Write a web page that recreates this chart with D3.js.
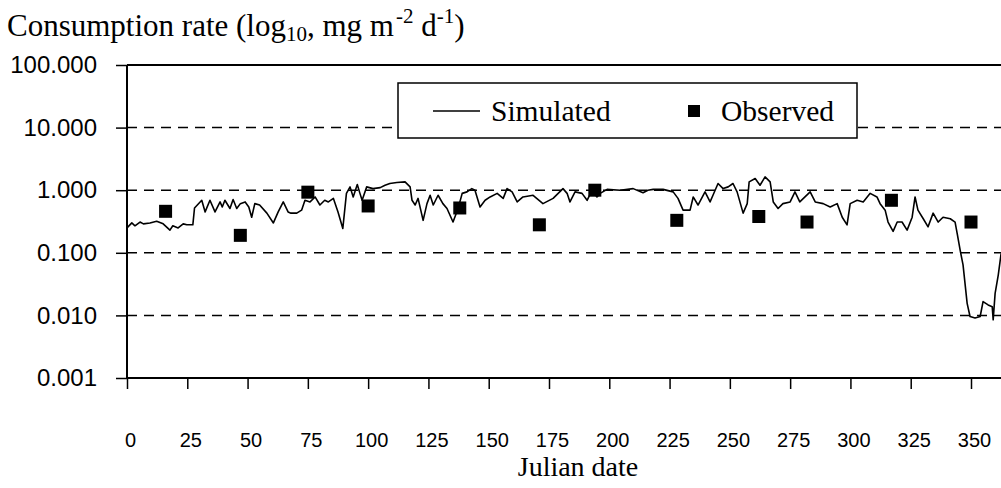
<!DOCTYPE html>
<html><head><meta charset="utf-8">
<script src="https://cdn.jsdelivr.net/npm/d3@7"></script>
<style>body{margin:0;background:#fff;} svg{display:block;}</style>
</head><body>
<svg id="chart" width="1001" height="488"></svg>
<script>
const simDays = [0,2,3.3,5.4,6.8,9.5,12.3,15,17.8,19,21.2,23.3,24.8,27.3,
28,31,32.4,34.4,36.5,38.6,39.5,40.6,42.7,44,45.5,47,49,50.5,51.7,53,55,58,60.7,62.7,64.8,66.8,68,70.4,72.4,73.8,75.9,78,80,82,83.5,85.6,87.5,89.5,91,92.5,93.8,95.5,96.6,97.5,99.4,102,105,107,109,111.9,115.3,117.4,
118.2,119.5,120.7,122.8,124.4,125.7,127,129,131,132.7,135.2,137.3,139,141,143,144.3,146.4,148.5,150.6,153.5,156,157.6,159.7,161.8,164.2,168.4,172.5,176.7,180.8,182.5,183.7,185.8,188.7,190.8,192.9,194.9,196.2,199.1,204.5,209.9,214,216,218.2,222.3,226.5,228.5,230.6,233.5,234.8,236.8,
239.7,241.8,243,245.1,247.2,249.3,251.3,253,255.5,257.2,258,260.5,262.5,264.6,266.7,268,270,272,275,277,279,283.3,285.4,288.7,291.6,294.5,296.6,298.6,299.9,302.8,305.3,308.2,311,312.3,314.4,315.6,317.7,319.4,321.4,323.5,325.6,326.8,328,330.2,332.2,334.3,336.4,338.4,341.4,343.4,344.3,345.5,346.7,348.4,349.6,351.7,353.8,355,357.1,358.8,359.2,360,361.3,362.5];
const simValues = [0.25,0.30,0.27,0.31,0.29,0.30,0.32,0.29,0.23,0.27,0.25,0.29,0.28,0.28,
0.52,0.69,0.45,0.69,0.45,0.65,0.54,0.69,0.51,0.71,0.51,0.61,0.65,0.54,0.37,0.61,0.58,0.43,0.30,0.45,0.65,0.45,0.43,0.43,0.48,0.69,0.65,0.78,0.58,0.69,0.65,0.74,0.45,0.245,0.89,1.13,0.78,1.23,0.89,0.69,1.13,1.06,1.10,1.20,1.28,1.33,1.36,1.13,
0.69,0.58,0.74,0.33,0.61,0.83,0.58,0.83,0.61,0.51,0.31,0.51,0.89,0.94,1.06,1.0,0.54,0.69,0.78,0.89,0.74,1.06,0.94,0.65,0.78,0.83,0.61,0.74,1.06,0.89,0.65,0.94,0.89,0.69,1.0,0.78,0.89,1.03,1.0,1.06,0.91,1.0,1.03,1.03,0.94,0.74,0.48,0.48,0.78,0.58,
0.94,0.65,0.83,1.28,1.06,1.13,1.28,0.94,0.43,0.61,1.36,1.54,1.2,1.63,1.36,0.65,0.51,0.61,0.65,0.94,0.65,0.94,0.65,0.61,0.54,0.61,0.37,0.28,0.61,0.69,0.65,0.89,0.78,0.61,0.48,0.31,0.22,0.31,0.31,0.23,0.37,0.78,0.48,0.35,0.26,0.43,0.31,0.37,0.35,0.31,0.20,0.11,0.064,0.0156,0.0096,0.0091,0.0096,0.0166,0.0147,0.0138,0.0085,0.0225,0.044,0.098];
const obsDays = [16,47,75,100,138,171,194,228,262,282,317,350];
const obsValues = [0.46,0.19,0.93,0.56,0.52,0.28,1.0,0.33,0.38,0.31,0.69,0.31];
const xTicks = [0,25,50,75,100,125,150,175,200,225,250,275,300,325,350];
const yTicks = [100,10,1,0.1,0.01,0.001];
const yTickLabels = ["100.000","10.000","1.000","0.100","0.010","0.001"];
const gridValues = [10,1,0.1,0.01];
const seriesNames = ["Simulated","Observed"];

const svg = d3.select("#chart");
svg.append("rect").attr("width",1001).attr("height",488).attr("fill","#fff");

const serif = "'Liberation Serif','Times New Roman',Times,serif";
const sans = "'Liberation Sans',Arial,Helvetica,sans-serif";

const x = d3.scaleLinear().domain([0,350]).range([127,971]);
const y = d3.scaleLog().domain([0.001,100]).range([378,65]);
const xRight = 1001;

// gridlines
svg.append("g").selectAll("line").data(gridValues).join("line")
  .attr("x1",x(0)).attr("x2",xRight)
  .attr("y1",d=>y(d)).attr("y2",d=>y(d))
  .attr("stroke","#000").attr("stroke-width",1.5).attr("stroke-dasharray","10,7");

// frame lines
svg.append("line").attr("x1",x(0)).attr("x2",xRight).attr("y1",y(100)).attr("y2",y(100)).attr("stroke","#000").attr("stroke-width",2);
svg.append("line").attr("x1",x(0)).attr("x2",xRight).attr("y1",y(0.001)).attr("y2",y(0.001)).attr("stroke","#000").attr("stroke-width",2);
svg.append("line").attr("x1",x(0)).attr("x2",x(0)).attr("y1",y(100)).attr("y2",y(0.001)).attr("stroke","#000").attr("stroke-width",2);

// y axis
const yAxis = d3.axisLeft(y).tickValues(yTicks).tickFormat((d,i)=>yTickLabels[i]).tickSize(11).tickPadding(19);
const gy = svg.append("g").attr("transform",`translate(${x(0)},0)`).call(yAxis);
gy.select(".domain").remove();
gy.selectAll(".tick line").attr("stroke","#000").attr("stroke-width",1.5);
gy.selectAll(".tick text").attr("font-family",sans).attr("font-size",24).attr("fill","#000");

// x axis
const xAxis = d3.axisBottom(x).tickValues(xTicks).tickFormat(d=>String(d)).tickSize(11).tickPadding(44);
const gx = svg.append("g").attr("transform",`translate(0,${y(0.001)})`).call(xAxis);
gx.select(".domain").remove();
gx.selectAll(".tick line").attr("stroke","#000").attr("stroke-width",1.5);
gx.selectAll(".tick text").attr("font-family",sans).attr("font-size",20).attr("fill","#000").attr("dx",3);

// x title
svg.append("text").attr("x",578).attr("y",476).attr("text-anchor","middle")
  .attr("font-family",serif).attr("font-size",28).attr("fill","#000").text("Julian date");

// chart title
const title = svg.append("text").attr("x",7).attr("y",36).attr("font-family",serif).attr("font-size",31).attr("fill","#000");
title.append("tspan").text("Consumption rate (log");
title.append("tspan").attr("font-size",21).attr("dy",5).text("10");
title.append("tspan").attr("dy",-5).text(", mg m");
title.append("tspan").attr("font-size",21).attr("dy",-13).attr("dx",2).text("-2");
title.append("tspan").attr("dy",13).text(" d");
title.append("tspan").attr("font-size",21).attr("dy",-13).text("-1");
title.append("tspan").attr("dy",13).text(")");

// simulated line
const simPts = simDays.map((d,i)=>[d,simValues[i]]);
svg.append("path").datum(simPts)
  .attr("d", d3.line().x(d=>x(d[0])).y(d=>y(d[1])))
  .attr("fill","none").attr("stroke","#000").attr("stroke-width",1.6).attr("stroke-linejoin","round");

// observed squares
const sq = 13;
svg.append("g").selectAll("rect").data(obsDays.map((d,i)=>[d,obsValues[i]])).join("rect")
  .attr("x",d=>x(d[0])-sq/2).attr("y",d=>y(d[1])-sq/2)
  .attr("width",sq).attr("height",sq).attr("fill","#000");

// legend
const lg = svg.append("g");
lg.append("rect").attr("x",398).attr("y",83).attr("width",459).attr("height",55)
  .attr("fill","#fff").attr("stroke","#000").attr("stroke-width",1.5);
lg.append("line").attr("x1",433).attr("x2",480).attr("y1",111).attr("y2",111).attr("stroke","#000").attr("stroke-width",1.5);
lg.append("text").attr("x",491).attr("y",121).attr("font-family",serif).attr("font-size",29.5).attr("fill","#000").text(seriesNames[0]);
lg.append("rect").attr("x",688).attr("y",105).attr("width",12).attr("height",12).attr("fill","#000");
lg.append("text").attr("x",721).attr("y",121).attr("font-family",serif).attr("font-size",29.5).attr("fill","#000").text(seriesNames[1]);
</script>
</body></html>
